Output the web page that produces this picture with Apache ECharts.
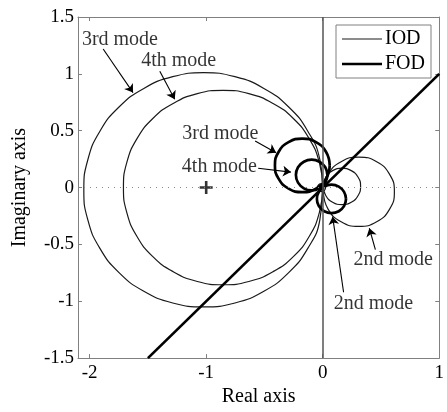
<!DOCTYPE html>
<html>
<head>
<meta charset="utf-8">
<script src="https://cdn.jsdelivr.net/npm/echarts@6/dist/echarts.min.js"></script>
<style>html,body{margin:0;padding:0;background:#fff}#c{width:447px;height:412px}</style>
</head>
<body>
<div id="c"></div>
<script>
// ---- data ----
const xTicks = [-2, -1, 0, 1];
const yTicks = [-1.5, -1, -0.5, 0, 0.5, 1, 1.5];

// IOD (thin) loops
const iod3 = [[0,0],[-0.025,0.247],[-0.128,0.495],[-0.292,0.708],[-0.505,0.872],[-0.753,0.975],[-1.02,1.01],[-1.287,0.975],[-1.535,0.872],[-1.748,0.708],[-1.912,0.495],[-2.015,0.247],[-2.05,-0.02],[-2.015,-0.287],[-1.912,-0.535],[-1.748,-0.748],[-1.535,-0.912],[-1.287,-1.015],[-1.02,-1.05],[-0.753,-1.015],[-0.505,-0.912],[-0.292,-0.748],[-0.128,-0.535],[-0.025,-0.287],[0,0]];
const iod4 = [[0,0],[-0.029,0.221],[-0.115,0.428],[-0.25,0.605],[-0.427,0.74],[-0.634,0.826],[-0.855,0.855],[-1.076,0.826],[-1.283,0.74],[-1.46,0.605],[-1.595,0.428],[-1.681,0.221],[-1.71,0],[-1.681,-0.221],[-1.595,-0.428],[-1.46,-0.605],[-1.283,-0.74],[-1.076,-0.826],[-0.855,-0.855],[-0.634,-0.826],[-0.427,-0.74],[-0.25,-0.605],[-0.115,-0.428],[-0.029,-0.221],[0,0]];
const iod2 = [[0.005,-0.037],[0.046,-0.19],[0.158,-0.301],[0.31,-0.342],[0.463,-0.301],[0.574,-0.19],[0.615,-0.037],[0.574,0.116],[0.463,0.227],[0.31,0.268],[0.158,0.227],[0.046,0.116],[0.005,-0.037]];
const iodMid = [[0.005,0.01],[0.026,-0.07],[0.085,-0.129],[0.165,-0.15],[0.245,-0.129],[0.304,-0.07],[0.325,0.01],[0.304,0.09],[0.245,0.149],[0.165,0.17],[0.085,0.149],[0.026,0.09],[0.005,0.01]];
const iod1 = [[0.025,0],[0.015,0.025],[-0.01,0.035],[-0.035,0.025],[-0.045,0],[-0.035,-0.025],[-0.01,-0.035],[0.015,-0.025],[0.025,0]];

// FOD (thick) loops and line
const fod3 = [[0.06,0.195],[0.029,0.313],[-0.058,0.399],[-0.175,0.43],[-0.293,0.399],[-0.379,0.313],[-0.41,0.195],[-0.379,0.078],[-0.293,-0.009],[-0.175,-0.04],[-0.058,-0.009],[0.029,0.078],[0.06,0.195]];
const fod4 = [[0.04,0.11],[0.022,0.178],[-0.028,0.227],[-0.095,0.245],[-0.162,0.227],[-0.212,0.178],[-0.23,0.11],[-0.212,0.043],[-0.162,-0.007],[-0.095,-0.025],[-0.028,-0.007],[0.022,0.043],[0.04,0.11]];
const fod2 = [[0.2,-0.1],[0.183,-0.038],[0.138,0.008],[0.075,0.025],[0.013,0.008],[-0.033,-0.038],[-0.05,-0.1],[-0.033,-0.163],[0.013,-0.208],[0.075,-0.225],[0.138,-0.208],[0.183,-0.163],[0.2,-0.1]];
const fodLine = [[-1.5,-1.5],[1,1]];

const crossPoint = [[-1, 0]];

// annotations: text, text position, arrow start, arrow end
const annTexts = ['3rd mode','4th mode','3rd mode','4th mode','2nd mode','2nd mode'];
const annTextPos = [[-1.74,1.30],[-1.236,1.117],[-0.878,0.477],[-0.887,0.179],[0.605,-0.639],[0.435,-1.023]];
const annArrowFrom = [[-1.884,1.219],[-1.398,1.023],[-0.58,0.409],[-0.554,0.170],[0.452,-0.546],[0.179,-0.921]];
const annArrowTo = [[-1.628,0.835],[-1.270,0.776],[-0.40,0.307],[-0.273,0.136],[0.40,-0.358],[0.085,-0.256]];

// ---- chart ----
const FONT = '"Liberation Serif","Times New Roman",serif';
const thin = {width: 1.2, color: '#1a1a1a'};
const thick = {width: 2.7, color: '#000'};

function loop(name, data, ls) {
  return {type:'line', name, data, smooth:true, symbol:'none', showSymbol:false,
          lineStyle: ls, itemStyle:{color: ls.color}, silent:true, z:3};
}

const series = [
  Object.assign(loop('IOD', iod3, thin), {
    markLine: {silent:true, symbol:'none', label:{show:false}, animation:false,
      data: [
        {yAxis: 0, lineStyle: {type:[1,5], color:'#888', width:1.2}},
        {xAxis: 0, lineStyle: {type:'solid', color:'#555', width:1.5}}
      ]}
  }),
  loop('IOD', iod4, thin),
  loop('IOD', iod2, thin),
  loop('IOD', iodMid, thin),
  loop('IOD', iod1, thin),
  loop('FOD', fod3, thick),
  loop('FOD', fod4, thick),
  loop('FOD', fod2, thick),
  {type:'line', name:'FOD', data: fodLine, symbol:'none', lineStyle: thick, itemStyle:{color:'#000'}, z:3},
  {type:'scatter', name:'cross', data: crossPoint, symbol:'path://M4,0H6V4H10V6H6V10H4V6H0V4H4Z',
   symbolSize: 13, itemStyle:{color:'#000'}, z:4},
  {type:'lines', name:'arrows', coordinateSystem:'cartesian2d', symbol:['none','arrow'], symbolSize:[0,8],
   lineStyle:{color:'#000', width:1.1, opacity:1}, z:5,
   data: annArrowFrom.map((p,i)=>({coords:[p, annArrowTo[i]]}))},
  {type:'scatter', name:'ann', symbolSize:1, itemStyle:{color:'rgba(0,0,0,0)'}, z:6,
   label:{show:true, position:'inside', fontFamily: FONT, fontSize: 20, color:'#000'},
   data: annTextPos.map((p,i)=>({value:p, label:{show:true, formatter: annTexts[i]}}))}
];

const axisLineGray = {show:true, onZero:false, lineStyle:{color:'#808080', width:1}};
const option = {
  animation: false,
  backgroundColor: '#fff',
  grid: {left: 78, right: 6, top: 17, bottom: 43},
  legend: {
    data: [
      {name:'IOD', icon:'path://M0,0H40V1.2H0Z'},
      {name:'FOD', icon:'path://M0,0H40V2.7H0Z'}
    ],
    orient:'vertical', left: 336, top: 25, itemWidth: 40, itemHeight: 3, itemGap: 5,
    padding: [4,6,4,6], borderColor:'#808080', borderWidth:1, backgroundColor:'#fff',
    textStyle:{fontFamily: FONT, fontSize: 20, color:'#000', padding:[0,0,0,-2]},
    selectedMode:false
  },
  xAxis: [
    {type:'value', min:-2.1, max:1, position:'bottom', axisLine: axisLineGray,
     axisTick:{show:true, inside:true, length:4, lineStyle:{color:'#808080'}, customValues: xTicks},
     axisLabel:{show:true, customValues: xTicks, fontFamily: FONT, fontSize: 19, color:'#000', margin:5},
     splitLine:{show:false},
     name:'Real axis', nameLocation:'middle', nameGap: 24,
     nameTextStyle:{fontFamily: FONT, fontSize: 20, color:'#000'}},
    {type:'value', min:-2.1, max:1, position:'top', axisLine: axisLineGray,
     axisTick:{show:true, inside:true, length:4, lineStyle:{color:'#808080'}, customValues: xTicks},
     axisLabel:{show:false}, splitLine:{show:false}}
  ],
  yAxis: [
    {type:'value', min:-1.5, max:1.5, interval:0.5, position:'left', axisLine: axisLineGray,
     axisTick:{show:true, inside:true, length:4, lineStyle:{color:'#808080'}},
     axisLabel:{show:true, fontFamily: FONT, fontSize: 19, color:'#000', margin:4},
     splitLine:{show:false},
     name:'Imaginary axis', nameLocation:'middle', nameGap: 48,
     nameTextStyle:{fontFamily: FONT, fontSize: 20, color:'#000'}},
    {type:'value', min:-1.5, max:1.5, interval:0.5, position:'right', axisLine: axisLineGray,
     axisTick:{show:true, inside:true, length:4, lineStyle:{color:'#808080'}},
     axisLabel:{show:false}, splitLine:{show:false}}
  ],
  series
};

const chart = echarts.init(document.getElementById('c'), null, {renderer:'canvas'});
chart.setOption(option);
</script>
</body>
</html>
